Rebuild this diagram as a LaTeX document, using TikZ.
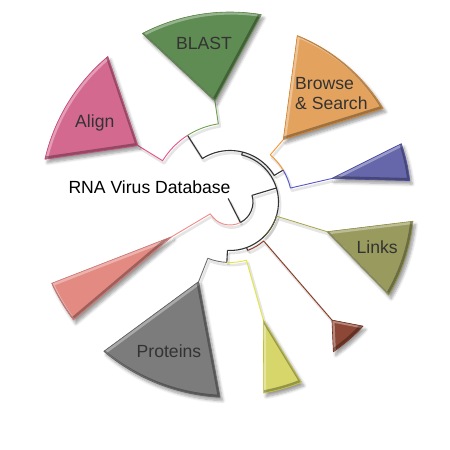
\documentclass[tikz,border=0pt]{standalone}
\usepackage{fontspec}
\setmainfont{Liberation Sans}
\usetikzlibrary{shadows.blur}

% leaf colours (fill / branch)
\definecolor{alignfill}{HTML}{D4698F}   \definecolor{alignline}{HTML}{E8508A}
\definecolor{blastfill}{HTML}{5F8C53}   \definecolor{blastline}{HTML}{6EA050}
\definecolor{browsefill}{HTML}{E3A35F}  \definecolor{browseline}{HTML}{F5962E}
\definecolor{bluefill}{HTML}{6666AA}    \definecolor{blueline}{HTML}{5555C8}
\definecolor{linksfill}{HTML}{999B5E}   \definecolor{linksline}{HTML}{A8A850}
\definecolor{brownfill}{HTML}{8C4737}   \definecolor{brownline}{HTML}{8B3A22}
\definecolor{yellowfill}{HTML}{D6D66A}  \definecolor{yellowline}{HTML}{E6E63A}
\definecolor{protfill}{HTML}{7C7C7C}    \definecolor{protline}{HTML}{6E6E6E}
\definecolor{salmonfill}{HTML}{E38A82}  \definecolor{salmonline}{HTML}{F28A86}
\definecolor{treecol}{HTML}{333333}

% all branches of the circular tree; #1 is an extra style (normal or shadow)
\newcommand\drawtreebranches[1]{%
  \draw[treeline,#1] (stem) -- (root);
  \draw[twig=salmonline,#1] (root) arc[start angle=297,end angle=211,radius=23pt] -- (saA);
  \draw[treeline,#1] (root) arc[start angle=297,end angle=376.8,radius=23pt] -- (p2);
  \draw[treeline,#1] (p4in) arc[start angle=-93,end angle=76,radius=48.5pt] -- (p1);
  \draw[treeline,#1] (p1bb) arc[start angle=31,end angle=122.5,radius=51.5pt] -- (nab);
  \draw[twig=alignline,#1] (nab) arc[start angle=122.5,end angle=148.5,radius=79pt] -- (alA);
  \draw[twig=blastline,#1] (nab) arc[start angle=122.5,end angle=98.5,radius=79pt] -- (blA);
  \draw[treeline,#1] (p1bb) -- (nbb);
  \draw[twig=browseline,#1] (nbb) arc[start angle=31,end angle=49.5,radius=62pt] -- (brA);
  \draw[twig=blueline,#1] (nbb) arc[start angle=31,end angle=13,radius=62pt] -- (buA);
  \draw[twig=linksline!55!black,#1] (lkB) arc[start angle=-17,end angle=-46,radius=48.5pt];
  \draw[twig=linksline,#1] (lkB) -- (lkA);
  \draw[treeline,#1] (p3in) -- (p3);
  \draw[twig=brownline,#1] (p3) arc[start angle=-70,end angle=-49.2,radius=51.5pt] -- (bnA);
  \draw[treeline,#1] (p4in) -- (p4);
  \draw[twig=protline,#1] (p4) arc[start angle=-93,end angle=-111.5,radius=60.5pt] -- (prA);
  \draw[twig=yellowline,#1] (p4) arc[start angle=-93,end angle=-74.2,radius=60.5pt] -- (ylA);
}

% one sector-shaped leaf with a bevelled rim:
% colour, apex, start angle, end angle, outer radius
\newcommand\leafsector[5]{%
  \fill[leaf, fill=#1fill] (#2) -- (#3:#5pt)
    arc[start angle=#3,end angle=#4,radius=#5pt] -- cycle;
  \begin{scope}
    \clip (#2) -- (#3:#5pt) arc[start angle=#3,end angle=#4,radius=#5pt] -- cycle;
    \begin{scope}[transform canvas={shift={(1.3pt,-1.3pt)}}]
      \draw[rimlight] (#2) -- (#3:#5pt)
        arc[start angle=#3,end angle=#4,radius=#5pt] -- cycle;
    \end{scope}
    \begin{scope}[transform canvas={shift={(-1.3pt,1.3pt)}}]
      \draw[rimdark] (#2) -- (#3:#5pt)
        arc[start angle=#3,end angle=#4,radius=#5pt] -- cycle;
    \end{scope}
  \end{scope}
  \draw[leafedge, draw=#1line!85!black] (#2) -- (#3:#5pt)
    arc[start angle=#3,end angle=#4,radius=#5pt] -- cycle;
}

\begin{document}
\begin{tikzpicture}[x=1pt,y=1pt,
  treeline/.style={draw=treecol, line width=1.1pt, line join=round},
  twig/.style={draw=#1, line width=0.9pt, line join=round},
  ghost/.style={draw=black, draw opacity=0.10, line width=2.6pt},
  plain/.style={},
  leaf/.style={blur shadow={shadow xshift=2.5pt, shadow yshift=-3.5pt,
      shadow opacity=40, shadow blur steps=6, shadow blur radius=3pt}},
  rimlight/.style={draw=white, draw opacity=0.35, line width=2.6pt},
  rimdark/.style={draw=black, draw opacity=0.30, line width=2.6pt},
  leafedge/.style={line width=0.6pt, line join=round},
  lbl/.style={font=\fontsize{17.6}{20.7}\selectfont, text=black!80,
    inner sep=0pt, anchor=base west},
]
\useasboundingbox (0,0) rectangle (450,450);

\begin{scope}[shift={(230,248)}]
  % tree nodes (polar, around the centre of the circle)
  \coordinate (stem) at (117:4pt);
  \coordinate (root) at (297:23pt);
  \coordinate (p2)   at (16.8:48.5pt);
  \coordinate (p4in) at (-93:48.5pt);
  \coordinate (p1)   at (76:51.5pt);
  \coordinate (p1bb) at (31:51.5pt);
  \coordinate (nab)  at (122.5:79pt);
  \coordinate (alA)  at (148.5:108pt);
  \coordinate (blA)  at (98.5:102pt);
  \coordinate (nbb)  at (31:62pt);
  \coordinate (brA)  at (49.5:82pt);
  \coordinate (buA)  at (13:104pt);
  \coordinate (lkB)  at (-17:48.5pt);
  \coordinate (lkA)  at (-17:101.5pt);
  \coordinate (p3in) at (-70:48.5pt);
  \coordinate (p3)   at (-70:51.5pt);
  \coordinate (bnA)  at (-49.2:156pt);
  \coordinate (p4)   at (-93:60.5pt);
  \coordinate (prA)  at (-111.5:85.5pt);
  \coordinate (ylA)  at (-74.2:122.5pt);
  \coordinate (saA)  at (210.8:67.5pt);

  % soft shadow under the branches, then the branches
  \begin{scope}[transform canvas={shift={(1.6pt,-2.6pt)}}]
    \drawtreebranches{ghost}
  \end{scope}
  \drawtreebranches{plain}

  % leaves
  \leafsector{align}{alA}{130}{167}{190}
  \leafsector{blast}{blA}{80.5}{117.5}{190}
  \leafsector{browse}{brA}{31.4}{68}{179.5}
  \leafsector{blue}{buA}{6.8}{18.8}{181}
  \leafsector{links}{lkA}{-30.4}{-6}{184}
  \leafsector{brown}{bnA}{-55.4}{-43}{182}
  \leafsector{yellow}{ylA}{-80}{-68.4}{194}
  \leafsector{prot}{prA}{-130.2}{-92.9}{195.5}
  \leafsector{salmon}{saA}{204.5}{217}{196}
\end{scope}

% labels
\node[lbl, text=black] (title) at (68.3,256) {RNA Virus Database};
\node[lbl] (align)    at (75,322)     {Align};
\node[lbl] (blast)    at (176,400)    {BLAST};
\node[lbl] (browse)   at (295,360.7)  {Browse};
\node[lbl] (search)   at (295,340)    {\& Search};
\node[lbl] (links)    at (356.5,196.7){Links};
\node[lbl] (proteins) at (136.5,92.7) {Proteins};
\end{tikzpicture}
\end{document}
